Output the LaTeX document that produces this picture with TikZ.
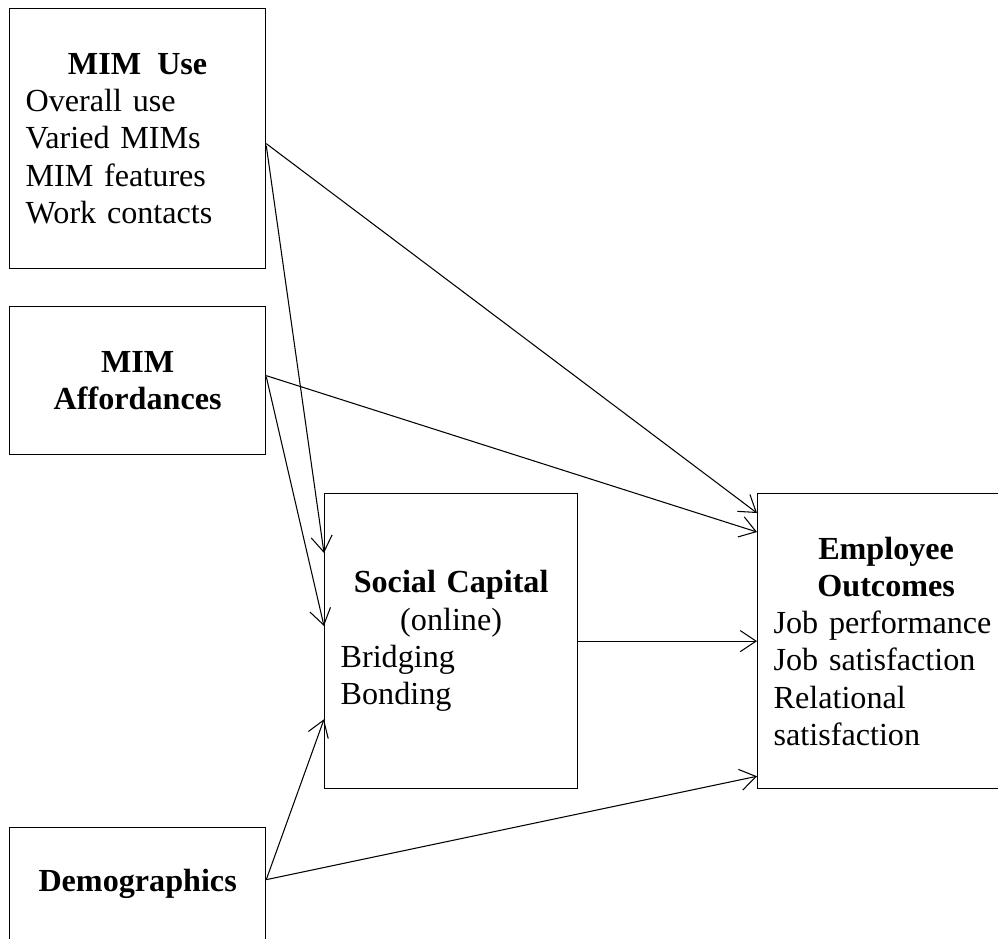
\documentclass[tikz,border=0pt]{standalone}
\usepackage{fontspec}
\setmainfont{Liberation Serif}
\usetikzlibrary{arrows.meta, calc}

\tikzset{
  block/.style={draw, line width=0.75pt, inner xsep=0.32cm, inner ysep=0pt,
    anchor=north west, align=left, font=\fontsize{18.3}{21.2}\selectfont},
  link/.style={-{Straight Barb[length=9pt,width=12pt]}, line width=0.6pt},
}

\begin{document}
\begin{tikzpicture}[x=0.02cm, y=-0.02cm]
\useasboundingbox (0,0) rectangle (998,938);

% boxes
\node[block, text width=4.48cm, minimum height=5.2cm] (use) at (9,8)
  {{\centering\textbf{MIM\enspace Use}\par}Overall use\\Varied MIMs\\MIM features\\Work contacts};
\node[block, text width=4.48cm, minimum height=2.96cm] (aff) at (9,306)
  {{\centering\textbf{MIM}\\\textbf{Affordances}\par}};
\node[block, text width=4.42cm, minimum height=5.9cm] (soc) at (324,493)
  {{\centering\textbf{Social Capital}\\(online)\par}Bridging\\Bonding};
\node[block, text width=4.5cm, minimum height=5.9cm] (out) at (757,493)
  {{\centering\textbf{Employee}\\\textbf{Outcomes}\par}\mbox{Job performance}\\Job satisfaction\\Relational\\satisfaction};
\node[block, text width=4.48cm, minimum height=2.24cm] (demo) at (9,827)
  {{\centering\textbf{Demographics}\par}};

% paths
\draw[link] ($(use.east)+(0,5)$) -- ($(out.north west)+(0,20)$);
\draw[link] ($(use.east)+(0,7)$) -- ($(soc.north west)+(0,60)$);
\draw[link] ($(aff.east)+(0,-5)$) -- ($(out.north west)+(0,39)$);
\draw[link] ($(aff.east)+(0,-4)$) -- ($(soc.north west)+(0,133)$);
\draw[link] (soc.east) -- (soc.east -| out.west);
\draw[link] ($(demo.east)+(0,-4)$) -- ($(soc.south west)+(0,-70)$);
\draw[link] ($(demo.east)+(0,-4)$) -- ($(out.south west)+(0,-13)$);

\end{tikzpicture}
\end{document}
